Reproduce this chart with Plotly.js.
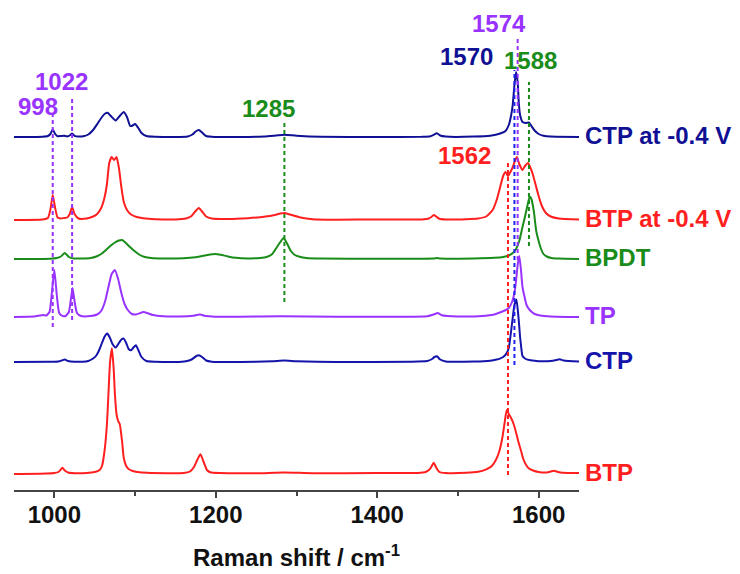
<!DOCTYPE html>
<html>
<head>
<meta charset="utf-8">
<script src="https://cdn.plot.ly/plotly-3.0.1.min.js"></script>
<style>html,body{margin:0;padding:0;background:#fff;}#chart{width:740px;height:574px;}</style>
</head>
<body>
<div id="chart"></div>
<script>
// ---- data (Raman shift in cm-1, intensity in arbitrary units above each baseline) ----
const names = ["CTP at -0.4 V", "BTP at -0.4 V", "BPDT", "TP", "CTP", "BTP"];
const offsets = [353, 270, 231, 173, 128, 16];

const ctpV_x = [950,985,992,995,998,1001,1004,1008,1012,1016,1019,1022,1025,1030,1036,1042,1048,1054,1059,1063,1066,1070,1076,1081,1086,1090,1094,1097,1100,1104,1108,1114,1125,1150,1165,1171,1175,1179,1183,1188,1195,1230,1260,1275,1285,1300,1330,1400,1455,1466,1470,1474,1478,1485,1520,1540,1548,1554,1559,1563,1566,1568,1570,1572,1574,1575.5,1577,1580,1584,1588,1591,1595,1600,1606,1615,1650];
const ctpV_y = [0,0.3,1,3,7.5,3,0.8,1,1.2,0.6,1.5,3.5,1.2,0.4,0.8,2.5,7,14,20,23.5,24.3,21,16.5,21,25,20,11,11.5,13,9,4,1,0.3,0,0.5,2.5,5.5,7,4.5,1,0.3,0,0.5,1.5,2.2,1.3,0.3,0,0.2,0.8,2.2,3.7,1.5,0.4,0.4,1.2,2.5,4,6,12,22,33,52,65,55,33,22,15,14,14.5,11,6.5,3,1.2,0.4,0];

const btpV_x = [950,985,992,995,998,1001,1004,1008,1012,1016,1019,1022,1025,1030,1040,1048,1053,1058,1062,1065,1068,1071,1074,1077,1080,1083,1086,1090,1095,1102,1110,1125,1150,1163,1170,1175,1179,1183,1188,1195,1215,1240,1255,1270,1280,1285,1292,1305,1320,1350,1400,1455,1464,1467,1470,1473,1477,1485,1510,1525,1535,1543,1548,1552,1556,1559,1562,1565,1568,1571,1573,1576,1580,1583,1587,1590,1593,1596,1600,1604,1609,1615,1625,1650];
const btpV_y = [0,0.5,2,10,25,12,2.5,1.5,2,2.5,6,13,6,1.5,1.5,3.5,6,12,22,35,57,63,60,63,52,33,18,10,5.5,3,1.8,0.8,0.5,1.5,4,9,12,8.5,3.5,1.5,1,1.8,2.8,4.5,6.5,7,5.5,2.5,0.8,0.3,0.5,0.5,1.5,3,5,3.5,1.2,0.5,0.8,1.5,3.5,10,20,32,44,48,44,48,53,60,63,56,50,54,57,52,45,36,24,14,7,3.5,1.5,0.5];

const bpdt_x = [950,995,1003,1008,1013,1018,1024,1035,1045,1052,1058,1064,1070,1075,1080,1084,1088,1093,1100,1106,1112,1120,1135,1160,1175,1185,1193,1199,1206,1215,1225,1240,1255,1263,1270,1275,1280,1284,1288,1293,1298,1304,1312,1330,1400,1470,1474,1478,1520,1545,1556,1563,1568,1572,1576,1580,1583,1586,1589,1591,1594,1597,1600,1603,1606,1610,1616,1625,1650];
const bpdt_y = [0,0.3,1,2.5,6,2,0.5,0.5,1,2.5,5,9,13.5,16.5,18.5,19,16.5,12.5,7.5,4,2,1,0.5,0.8,1.8,3.2,4.5,5,4.3,2.6,1.2,0.6,1,2,5,11,17,21,16,8,4,2.2,1,0.4,0.3,0.5,1,0.5,0.6,1.2,2,3.5,6,10,18,32,42,53,62.5,60,48,28,18,10,5,2.5,1,0.4,0];

const tp_x = [950,975,982,986,990,994,997,1000,1003,1006,1010,1014,1018,1020,1022.5,1025,1028,1033,1045,1053,1058,1063,1067,1071,1075,1079,1083,1087,1091,1096,1101,1106,1110,1115,1122,1135,1155,1172,1178,1182,1186,1195,1230,1280,1350,1420,1462,1470,1475,1480,1500,1530,1545,1552,1558,1563,1567,1570,1572,1574,1576,1578,1580,1582,1585,1589,1595,1602,1615,1650];
const tp_y = [0,0.5,1.5,2,1.5,5,25,47,22,4,1.2,1,5,15,29,16,4,1,1,2.5,6,16,30,43,47,38,24,13,7,3,2.5,3.8,5,4,2,0.8,0.6,1.3,2.3,2.3,1.2,0.6,0.3,0.8,0.3,0.2,0.8,2.5,4,1.8,0.6,1,2.5,4.5,6.5,9,15,24,36,52,61,48,30,22,12,7,3,1.5,0.6,0];

const ctp_x = [950,995,1005,1010,1013,1017,1025,1035,1042,1048,1052,1055,1059,1062,1065.5,1069,1072,1076,1080,1083,1086,1089,1092,1095,1098,1101,1104,1108,1114,1125,1150,1163,1170,1175,1179,1183,1188,1195,1230,1270,1285,1300,1350,1440,1462,1468,1471,1474,1478,1485,1520,1540,1548,1552,1556,1560,1563,1566,1568,1570,1572.5,1575,1577,1578.5,1580,1584,1590,1600,1615,1622,1626,1631,1650];
const ctp_y = [0,0.3,0.5,1.8,2.4,1,0.3,0.3,1,3.5,6.5,11,19,25,28.4,24,18,14.4,19,22.5,23.4,19,13,11.7,14.5,16.7,12,5,1,0.3,0,0.8,2.5,5.5,6.7,5,1.5,0.3,0,0.8,1.4,0.8,0,0.3,1,3,5,5.7,2.5,0.6,0.5,1.3,2.5,3.4,5,8.4,14,31.7,45,57,62.4,45,25,14,6,3,1.7,0.8,1,2,2.7,1.5,0.5];

const btp_x = [950,990,1000,1005,1008,1010,1013,1017,1025,1040,1050,1056,1059,1062,1065,1067,1069,1071.3,1073.5,1075,1077,1079,1081,1084,1086,1089,1092,1097,1103,1115,1140,1160,1168,1173,1177,1181,1185,1189,1193,1205,1250,1285,1320,1400,1450,1460,1464,1467,1470,1473,1477,1485,1510,1525,1535,1542,1547,1551,1555,1558,1560.5,1563,1566,1569,1572.5,1575,1578.6,1581,1584.5,1588,1593,1600,1610,1615,1619,1624,1630,1650];
const btp_y = [0,0.5,1,2,4.5,6.3,3.5,1.5,0.8,1,2,4,8,22,48,80,112,125.7,105,80,60,53,50,32,16,8,5,3,2,1.2,0.8,1,2.5,7,14,19.7,12,4,1.8,1,0.8,1.5,0.8,1,1,2,4,7,11.3,6.5,2,1,1.2,2.2,4.7,8,14,22,36,52,64,60,55.7,50,40,32,22,15,9,5.5,3.5,2,1.5,2.5,3.3,2,1.2,1];

const xs = [ctpV_x, btpV_x, bpdt_x, tp_x, ctp_x, btp_x];
const ys = [ctpV_y, btpV_y, bpdt_y, tp_y, ctp_y, btp_y];
const colors = ["#101094", "#ff1f1f", "#1a8c1a", "#9933ff", "#1414aa", "#ff1f1f"];

// marked peak positions (cm-1) and their labels
const peakPos = [998, 1022, 1285, 1574, 1570, 1588, 1562];
const peakText = ["998", "1022", "1285", "1574", "1570", "1588", "1562"];

// ---- layout / style configuration ----
const peakColor = ["#9933ff", "#9933ff", "#1a8c1a", "#9933ff", "#101094", "#1a8c1a", "#ff1f1f"];
const lineColor = ["#9933ff", "#9933ff", "#1a8c1a", "#9933ff", "#2222ee", "#1a8c1a", "#ff1f1f"];
const lineSpan = [[163,375],[170,393],[188,368],[230,453],[125,420],[244,408],[15,328]];
const labelPos = [[979.7,384],[1008.8,408.5],[1264.9,381.5],[1550.8,466.5],[1510.6,433.5],[1589.8,430],[1508,335]];

const FONT = "Arial, 'Liberation Sans', Helvetica, sans-serif";

const traces = xs.map((x, i) => ({
  type: "scatter", mode: "lines", name: names[i],
  x: x, y: ys[i].map(v => v + offsets[i]),
  line: {color: colors[i], width: 2, shape: "spline", smoothing: 0.5},
  hoverinfo: "x+name", showlegend: false
}));

const shapes = peakPos.map((p, i) => ({
  type: "line", xref: "x", yref: "y", x0: p, x1: p, y0: lineSpan[i][0], y1: lineSpan[i][1],
  line: {color: lineColor[i], width: 2, dash: "4px,3px"}, layer: "above"
}));

const annotations = peakText.map((t, i) => ({
  xref: "x", yref: "y", x: labelPos[i][0], y: labelPos[i][1], text: "<b>" + t + "</b>",
  showarrow: false, xanchor: "center", yanchor: "middle",
  font: {family: FONT, size: 24, color: peakColor[i]}
})).concat(names.map((n, i) => ({
  xref: "paper", yref: "y", x: 1, y: offsets[i] + 2, xshift: 4, text: "<b>" + n + "</b>",
  showarrow: false, xanchor: "left", yanchor: "middle",
  font: {family: FONT, size: 24, color: colors[i]}
})));

const layout = {
  width: 740, height: 574,
  margin: {l: 14, r: 161, t: 0, b: 84},
  paper_bgcolor: "#fff", plot_bgcolor: "#fff",
  showlegend: false,
  xaxis: {
    range: [950, 1650], tick0: 1000, dtick: 200,
    showgrid: false, zeroline: false, showline: true, linecolor: "#444", linewidth: 2,
    ticks: "outside", ticklen: 6, tickwidth: 2, tickcolor: "#444",
    minor: {dtick: 100, ticks: "outside", ticklen: 3.5, tickwidth: 2, tickcolor: "#444"},
    tickfont: {family: FONT, size: 24, color: "#111", weight: "bold"},
    ticklabelstandoff: -4,
    title: {text: "<b>Raman shift / cm<sup>-1</sup></b>", standoff: 22, font: {family: FONT, size: 24, color: "#111"}},
    fixedrange: true
  },
  yaxis: {visible: false, range: [0, 490], fixedrange: true},
  shapes: shapes,
  annotations: annotations
};

Plotly.newPlot("chart", traces, layout, {displayModeBar: false, staticPlot: true});
</script>
</body>
</html>
